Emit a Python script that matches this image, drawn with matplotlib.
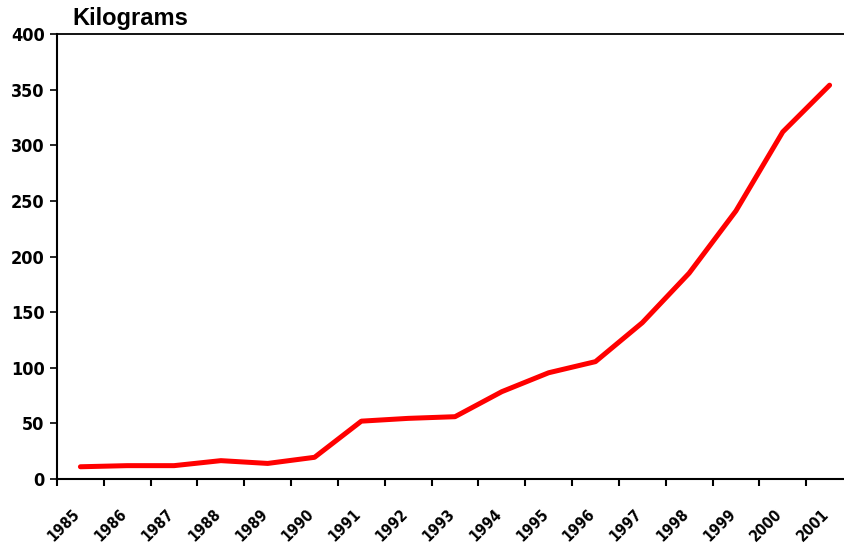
import matplotlib
matplotlib.use("Agg")
import matplotlib.pyplot as plt
import matplotlib.transforms as mtransforms
import numpy as np

years = ["1985", "1986", "1987", "1988", "1989", "1990", "1991", "1992", "1993",
         "1994", "1995", "1996", "1997", "1998", "1999", "2000", "2001"]
kilograms = [11, 12, 12, 16.5, 14, 19.5, 52, 54.5, 56, 78.5, 95.5, 105.5,
             140.5, 185, 241, 312, 354]
y_ticks = [0, 50, 100, 150, 200, 250, 300, 350, 400]

fig = plt.figure(figsize=(8.44, 5.43), dpi=100)
fig.patch.set_facecolor("white")
# plot area runs past the right edge of the picture, as in the original
ax = fig.add_axes([57 / 844, 64 / 543, 796 / 844, 445 / 543])

x = np.arange(len(years))
ax.plot(x, kilograms, color="#ff0000", lw=3.6, solid_joinstyle="round",
        solid_capstyle="round", clip_on=False)

ax.set_xlim(-0.5, len(years) - 0.5)
ax.set_ylim(0, 400)

# year labels at category centres, tick marks on the boundaries
ax.set_xticks(x)
ax.set_xticklabels(years, rotation=45, ha="right", va="top",
                   rotation_mode="anchor", fontsize=11, fontweight="bold",
                   family="DejaVu Sans", fontstretch="condensed")
ax.tick_params(axis="x", which="major", length=0, pad=20)
shift = mtransforms.ScaledTranslation(-8 / 100, 0, fig.dpi_scale_trans)
for lbl in ax.get_xticklabels():
    lbl.set_transform(lbl.get_transform() + shift)
ax.set_xticks(np.arange(len(years) + 1) - 0.5, minor=True)
ax.tick_params(axis="x", which="minor", length=5, width=1.5, direction="out")

ax.set_yticks(y_ticks)
ax.set_yticklabels([str(v) for v in y_ticks], fontsize=13, fontweight="bold",
                   family="DejaVu Sans", fontstretch="condensed")
ax.tick_params(axis="y", length=5, width=1.2, direction="out", pad=4)

for side in ["left", "bottom", "top"]:
    ax.spines[side].set_linewidth(1.5)
ax.spines["top"].set_linewidth(1.3)
ax.spines["right"].set_visible(False)

fig.text(72 / 844, 1 - 18 / 543, "Kilograms", fontsize=17, fontweight="bold",
         family=["Liberation Sans", "DejaVu Sans"], va="center", ha="left")

fig.savefig("out.png", dpi=100)
